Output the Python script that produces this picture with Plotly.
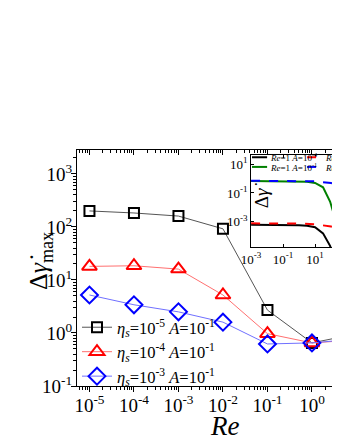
import plotly.graph_objects as go

# main panel: max strain-rate jump vs Re
re = [1e-5, 1e-4, 1e-3, 1e-2, 1e-1, 1, 10]
eta5 = [200, 183, 160, 92, 2.7, 0.65, 0.96]
eta4 = [18, 18.5, 16, 5.2, 0.97, 0.65, 0.74]
eta3 = [5.2, 3.4, 2.5, 1.6, 0.62, 0.65, 0.77]
names = ["<i>η<sub>s</sub></i>=10<sup>-5</sup> <i>A</i>=10<sup>-1</sup>",
         "<i>η<sub>s</sub></i>=10<sup>-4</sup> <i>A</i>=10<sup>-1</sup>",
         "<i>η<sub>s</sub></i>=10<sup>-3</sup> <i>A</i>=10<sup>-1</sup>"]

x_ticks = [1e-5, 1e-4, 1e-3, 1e-2, 1e-1, 1]
x_text = ["10<sup>-5</sup>", "10<sup>-4</sup>", "10<sup>-3</sup>", "10<sup>-2</sup>", "10<sup>-1</sup>", "10<sup>0</sup>"]
y_ticks = [0.1, 1, 10, 100, 1000]
y_text = ["10<sup>-1</sup>", "10<sup>0</sup>", "10<sup>1</sup>", "10<sup>2</sup>", "10<sup>3</sup>"]

# inset: time traces
t_a = [1e-3, 1e-2, 1e-1, 1, 3.16, 10, 31.6, 87, 150, 237, 363]
g_a4 = [6e-4, 6e-4, 6e-4, 5.6e-4, 5e-4, 4e-4, 1.5e-4, 2e-5, 3e-6, 1e-6, 1e-7]
g_a1 = [0.69, 0.69, 0.69, 0.68, 0.62, 0.5, 0.25, 0.025, 3e-3, 6e-4, 2.5e-5]
t_b = [1e-3, 1e-2, 1e-1, 1, 10, 100, 400]
g_b4 = [7.5e-4, 7.5e-4, 7.5e-4, 7.2e-4, 6.5e-4, 4.5e-4, 3e-4]
g_b1 = [0.72, 0.72, 0.72, 0.7, 0.65, 0.5, 0.37]
in_ticks = [1e-3, 1e-1, 10]
in_xtext = ["10<sup>-3</sup>", "10<sup>-1</sup>", "10<sup>1</sup>"]
in_yvals = [1e-3, 1e-1, 10]
in_ytext = ["10<sup>-3</sup>", "10<sup>-1</sup>", "10<sup>1</sup>"]

FONT = "Liberation Serif"


def minor_vals(lo, hi):
    out = []
    for e in range(lo, hi):
        out += [k * 10.0 ** e for k in range(2, 10)]
    return out


fig = go.Figure()

styles = [("black", "#555555", "square-open", 10),
          ("red", "#ff7070", "triangle-up-open", 13),
          ("blue", "#7070ff", "diamond-open", 13)]
for ys, nm, (mc, lc, sym, sz) in zip([eta5, eta4, eta3], names, styles):
    fig.add_trace(go.Scatter(x=re, y=ys, name=nm, mode="lines+markers",
                             line=dict(color=lc, width=1),
                             marker=dict(symbol=sym, size=sz, color=mc,
                                         line=dict(color=mc, width=2))))

# top axis with inward ticks
fig.add_trace(go.Scatter(x=re, y=eta5, xaxis="x3", mode="lines", opacity=0,
                         showlegend=False, hoverinfo="skip"))

inset = [(t_a, g_a4, "black", "solid"), (t_b, g_b4, "red", "dash"),
         (t_a, g_a1, "green", "solid"), (t_b, g_b1, "blue", "dash")]
for xs, ys, c, d in inset:
    fig.add_trace(go.Scatter(x=xs, y=ys, xaxis="x2", yaxis="y2", mode="lines",
                             line=dict(color=c, width=2, dash=d), showlegend=False))

ax_minor = dict(tickvals=minor_vals(-6, 1), ticklen=3, tickcolor="black", showgrid=False)
ay_minor = dict(tickvals=minor_vals(-1, 4), ticklen=3, tickcolor="black", showgrid=False)

# page body adds an 8px offset, so the figure is 8px smaller than the window
fig.update_layout(
    template="none",
    width=332, height=432,
    margin=dict(l=69, r=0, t=142, b=54),
    paper_bgcolor="white", plot_bgcolor="white",
    font=dict(family=FONT, color="black"),
    showlegend=True,
    legend=dict(x=0.0, y=0.322, xanchor="left", yanchor="top",
                bgcolor="rgba(0,0,0,0)", font=dict(size=16.5, family=FONT),
                itemwidth=30, tracegroupgap=0),
    xaxis=dict(type="log", range=[-5.28, 0.63], showline=True, linecolor="black",
               linewidth=1, ticks="outside", ticklen=5, tickcolor="black",
               tickvals=x_ticks, ticktext=x_text, tickfont=dict(size=19),
               ticklabelstandoff=-3,
               showgrid=False, zeroline=False, automargin=False,
               minor=dict(ticks="outside", **ax_minor)),
    xaxis3=dict(type="log", range=[-5.28, 0.63], overlaying="x", side="top",
                anchor="y", showline=True, linecolor="black", linewidth=1,
                ticks="inside", ticklen=5, tickcolor="black", tickvals=x_ticks,
                showticklabels=False, showgrid=False, zeroline=False, automargin=False,
                minor=dict(ticks="inside", **ax_minor)),
    yaxis=dict(type="log", range=[-1, 3.45], showline=True, linecolor="black",
               linewidth=1, ticks="outside", ticklen=5, tickcolor="black",
               tickvals=y_ticks, ticktext=y_text, tickfont=dict(size=19),
               ticklabelstandoff=-5,
               showgrid=False, zeroline=False, automargin=False,
               minor=dict(ticks="outside", **ay_minor)),
    xaxis2=dict(type="log", range=[-3, 2.56], domain=[0.662, 1], anchor="y2",
                showline=True, linecolor="black", linewidth=1, mirror="ticks",
                ticks="inside", ticklen=3, tickcolor="black", tickvals=in_ticks,
                ticktext=in_xtext, tickfont=dict(size=13), showgrid=False,
                zeroline=False, automargin=False),
    yaxis2=dict(type="log", range=[-4.78, 1.66], domain=[0.589, 0.979], anchor="x2",
                showline=True, linecolor="black", linewidth=1,
                ticks="inside", ticklen=3, tickcolor="black", tickvals=in_yvals,
                ticktext=in_ytext, tickfont=dict(size=13), showgrid=False,
                zeroline=False, automargin=False),
)

# axis titles
fig.add_annotation(text="<i>Re</i>", xref="paper", yref="paper", x=0.559, y=-0.17,
                   xanchor="center", yanchor="middle",
                   showarrow=False, font=dict(size=27, family=FONT))
fig.add_annotation(text="Δ<i>γ̇</i><sub>max</sub>", xref="paper", yref="paper",
                   x=-0.14, y=0.53, xanchor="center", yanchor="middle",
                   textangle=-90, showarrow=False, font=dict(size=26, family=FONT))

# white backing for the inset
fig.add_shape(type="rect", xref="x2 domain", yref="y2 domain", x0=0, x1=1, y0=0, y1=1,
              fillcolor="white", line=dict(width=0), layer="below")

# inset y label
fig.add_annotation(text="Δ<i>γ̇</i>", xref="x2 domain", yref="y2 domain", x=0.12, y=0.56,
                   xanchor="center", yanchor="middle",
                   textangle=-90, showarrow=False, font=dict(size=19, family=FONT))

# inset legend (two rows, second column runs off the page)
leg = [("black", "solid", "<i>Re</i>=1 <i>A</i>=10<sup>-4</sup>", 0, 0.975),
       ("red", "dash", "<i>Re</i>=10 <i>A</i>=10<sup>-4</sup>", 1, 0.975),
       ("green", "solid", "<i>Re</i>=1 <i>A</i>=10<sup>-1</sup>", 0, 0.87),
       ("blue", "dash", "<i>Re</i>=10 <i>A</i>=10<sup>-1</sup>", 1, 0.87)]
for c, d, txt, col, yy in leg:
    x0 = 0.01 + col * 0.62
    fig.add_shape(type="line", xref="x2 domain", yref="y2 domain", x0=x0, x1=x0 + 0.17,
                  y0=yy, y1=yy, line=dict(color=c, width=2, dash=d))
    fig.add_annotation(text=txt, xref="x2 domain", yref="y2 domain", x=x0 + 0.18, y=yy,
                       xanchor="left", yanchor="middle", showarrow=False,
                       font=dict(size=9, family=FONT))

fig.write_html("out.html")
